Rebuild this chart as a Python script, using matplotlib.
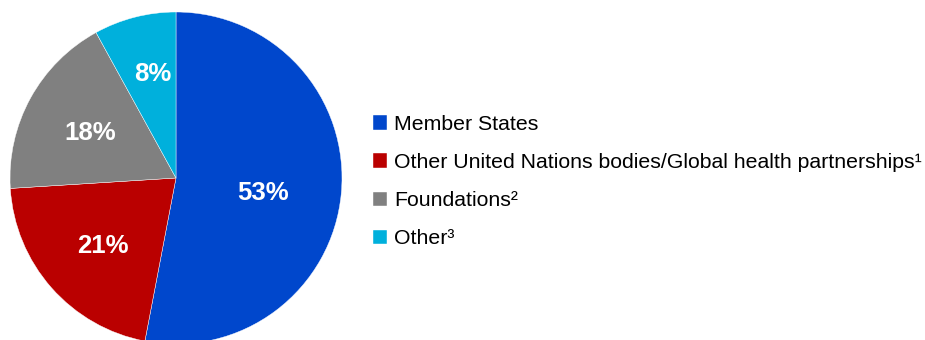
import numpy as np
import matplotlib
matplotlib.use("Agg")
import matplotlib.pyplot as plt

plt.rcParams['font.family'] = ['Liberation Sans', 'DejaVu Sans']

# data
labels = ["Member States",
          "Other United Nations bodies/Global health partnerships\u00b9",
          "Foundations\u00b2",
          "Other\u00b3"]
shares = [53, 21, 18, 8]
colors = ["#0047CC", "#BA0000", "#808080", "#00B0DC"]

# where the % labels sit inside each wedge (radius fraction, angle nudge in deg)
pct_dist = [0.53, 0.60, 0.58, 0.64]
pct_nudge = [-4.5, 1.5, 1.2, -1.5]

fig = plt.figure(figsize=(9.25, 3.4), dpi=100)
# pie axes placed in pixel terms: centre ~(176,178), radius ~166
ax = fig.add_axes([10 / 925, -4 / 340, 332 / 925, 332 / 340])

wedges, texts, autotexts = ax.pie(
    shares, colors=colors, startangle=90, counterclock=False,
    autopct=lambda p: '%d%%' % round(p), pctdistance=0.6, radius=1.0,
    wedgeprops=dict(edgecolor='white', linewidth=0.3),
    textprops=dict(color='white', fontsize=18.5, fontweight='bold'))
for w, t, d, n in zip(wedges, autotexts, pct_dist, pct_nudge):
    ang = np.deg2rad((w.theta1 + w.theta2) / 2 + n)
    t.set_position((d * np.cos(ang), d * np.sin(ang)))
ax.set_xlim(-1, 1)
ax.set_ylim(-1, 1)
ax.set_aspect('equal')

fig.legend(wedges, labels, loc='upper left',
           bbox_to_anchor=(373 / 925, 1 - 115 / 340),
           frameon=False, fontsize=15.3, borderpad=0, borderaxespad=0,
           handlelength=0.68, handleheight=0.68, handletextpad=0.3,
           labelspacing=0.9)

fig.savefig("out.png", dpi=100)
